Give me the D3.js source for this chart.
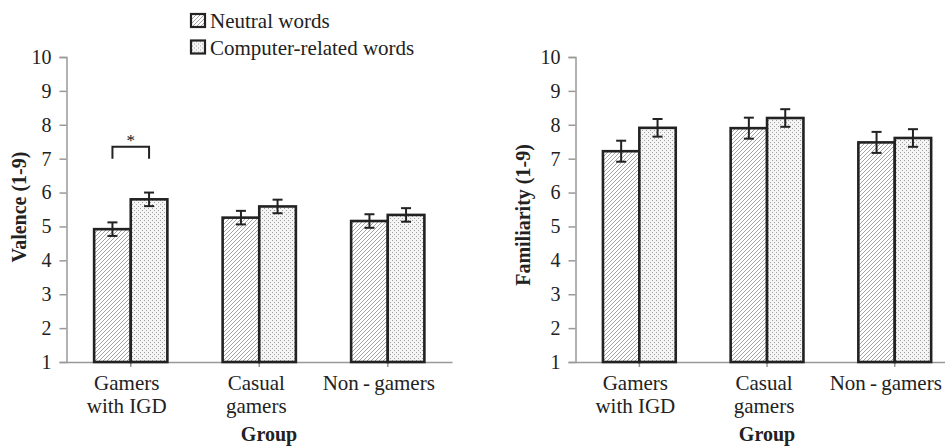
<!DOCTYPE html>
<html lang="en">

<head>
    <meta charset="utf-8">
    <script src="https://cdn.jsdelivr.net/npm/d3@7"></script>
    <style>
        body { margin: 0; background: #fff; }
        svg { display: block; font-family: "Liberation Serif", "Times New Roman", serif; }
    </style>
</head>

<body>
    <div id="chart"></div>

    <script>
        // data
        const groups = ["Gamers with IGD", "Casual gamers", "Non-gamers"];
        const groupLines = [["Gamers", "with IGD"], ["Casual", "gamers"], ["Non\u2009-\u2009gamers"]];
        const seriesNames = ["Neutral words", "Computer-related words"];
        const yTicks = [1, 2, 3, 4, 5, 6, 7, 8, 9, 10];

        const valenceNeutral = [4.92, 5.26, 5.16];
        const valenceComputer = [5.80, 5.59, 5.34];
        const valenceNeutralErr = [0.2, 0.2, 0.2];
        const valenceComputerErr = [0.2, 0.2, 0.2];

        const familiarNeutral = [7.22, 7.90, 7.48];
        const familiarComputer = [7.91, 8.20, 7.61];
        const familiarNeutralErr = [0.31, 0.31, 0.31];
        const familiarComputerErr = [0.26, 0.26, 0.26];

        const W = 945, H = 446;
        const labelShift = [-4, -3, -9];

        const svg = d3.select("#chart").append("svg")
            .attr("width", W)
            .attr("height", H);

        // fill patterns
        const defs = svg.append("defs");
        const hatch = defs.append("pattern")
            .attr("id", "hatch")
            .attr("patternUnits", "userSpaceOnUse")
            .attr("width", 4).attr("height", 4);
        hatch.append("rect").attr("width", 4).attr("height", 4).attr("fill", "#fff");
        hatch.append("path")
            .attr("d", "M-1,1 l2,-2 M0,4 l4,-4 M3,5 l2,-2")
            .attr("stroke", "#8c8c8c")
            .attr("stroke-width", 0.8);

        const dots = defs.append("pattern")
            .attr("id", "dots")
            .attr("patternUnits", "userSpaceOnUse")
            .attr("width", 4).attr("height", 4);
        dots.append("rect").attr("width", 4).attr("height", 4).attr("fill", "#f5f5f5");
        dots.append("rect").attr("x", 0).attr("y", 0).attr("width", 1).attr("height", 1).attr("fill", "#a0a0a0");
        dots.append("rect").attr("x", 2).attr("y", 2).attr("width", 1).attr("height", 1).attr("fill", "#a0a0a0");

        const fills = ["url(#hatch)", "url(#dots)"];

        function drawPanel(p) {
            const g = svg.append("g");

            const x = d3.scaleBand()
                .domain(groups)
                .range([p.left, p.left + 3 * p.step])
                .paddingInner(0.43)
                .paddingOuter(0.215);
            const x1 = d3.scaleBand()
                .domain([0, 1])
                .range([0, x.bandwidth()]);
            const y = d3.scaleLinear()
                .domain([1, 10])
                .range([362, 57]);

            // axes
            const yAxis = g.append("g")
                .attr("transform", `translate(${p.left},0)`)
                .call(d3.axisLeft(y).tickValues(yTicks).tickSize(7).tickPadding(8).tickFormat(d3.format("d")));
            yAxis.attr("font-family", null);
            yAxis.select(".domain").attr("stroke", "#999").attr("stroke-width", 1.5);
            yAxis.selectAll(".tick line").attr("stroke", "#999").attr("stroke-width", 1.5);
            yAxis.selectAll(".tick text")
                .attr("fill", "#222")
                .style("font-size", "20px");

            const xAxis = g.append("g")
                .attr("transform", `translate(0,${y(1)})`)
                .call(d3.axisBottom(x).tickSize(5).tickSizeOuter(0).tickFormat(""));
            xAxis.select(".domain").attr("stroke", "#999").attr("stroke-width", 1.5);
            xAxis.selectAll(".tick line").attr("stroke", "#999").attr("stroke-width", 1.5);

            // category labels
            groups.forEach((grp, i) => {
                const cx = x(grp) + x.bandwidth() / 2 + labelShift[i];
                const t = g.append("text")
                    .attr("x", cx)
                    .attr("y", 390)
                    .attr("text-anchor", "middle")
                    .attr("fill", "#222")
                    .style("font-size", "21px");
                groupLines[i].forEach((line, j) => {
                    t.append("tspan")
                        .attr("x", cx)
                        .attr("dy", j === 0 ? 0 : 23)
                        .text(line);
                });
            });

            // axis titles
            g.append("text")
                .attr("x", p.groupTitleX)
                .attr("y", 441)
                .attr("text-anchor", "middle")
                .attr("font-weight", "bold")
                .attr("fill", "#222")
                .style("font-size", "20px")
                .text("Group");

            g.append("text")
                .attr("transform", `translate(${p.titleX},${p.titleY}) rotate(-90)`)
                .attr("text-anchor", "middle")
                .attr("font-weight", "bold")
                .attr("fill", "#222")
                .style("font-size", "20px")
                .text(p.title);

            // bars
            const rows = [];
            groups.forEach((grp, i) => {
                p.values.forEach((vals, s) => {
                    rows.push({ grp, s, v: vals[i], e: p.errors[s][i] });
                });
            });

            g.selectAll("rect.bar")
                .data(rows)
                .join("rect")
                .attr("class", "bar")
                .attr("x", d => x(d.grp) + x1(d.s))
                .attr("y", d => y(d.v))
                .attr("width", x1.bandwidth())
                .attr("height", d => y(1) - y(d.v))
                .attr("fill", d => fills[d.s])
                .attr("stroke", "#222")
                .attr("stroke-width", 2.6);

            // error bars
            const eb = g.selectAll("g.err")
                .data(rows)
                .join("g")
                .attr("class", "err")
                .attr("stroke", "#222")
                .attr("stroke-width", 2);
            const cx = d => x(d.grp) + x1(d.s) + x1.bandwidth() / 2;
            eb.append("line")
                .attr("x1", cx).attr("x2", cx)
                .attr("y1", d => y(d.v + d.e)).attr("y2", d => y(d.v - d.e));
            eb.append("line")
                .attr("x1", d => cx(d) - 5).attr("x2", d => cx(d) + 5)
                .attr("y1", d => y(d.v + d.e)).attr("y2", d => y(d.v + d.e));
            eb.append("line")
                .attr("x1", d => cx(d) - 5).attr("x2", d => cx(d) + 5)
                .attr("y1", d => y(d.v - d.e)).attr("y2", d => y(d.v - d.e));

            // significance bracket
            if (p.sig) {
                const gi = groups[p.sig.group];
                const xa = x(gi) + x1(0) + x1.bandwidth() / 2;
                const xb = x(gi) + x1(1) + x1.bandwidth() / 2;
                const yt = y(p.sig.level);
                g.append("path")
                    .attr("d", `M${xa},${yt + 12} V${yt} H${xb} V${yt + 12}`)
                    .attr("fill", "none")
                    .attr("stroke", "#222")
                    .attr("stroke-width", 2);
                g.append("text")
                    .attr("x", (xa + xb) / 2)
                    .attr("y", yt - 1)
                    .attr("text-anchor", "middle")
                    .attr("fill", "#111")
                    .style("font-size", "17px")
                    .text("*");
            }
        }

        drawPanel({
            left: 66.5, step: 128.5,
            values: [valenceNeutral, valenceComputer],
            errors: [valenceNeutralErr, valenceComputerErr],
            title: "Valence (1-9)", titleX: 26, titleY: 207,
            groupTitleX: 269,
            sig: { group: 0, level: 7.35 }
        });

        drawPanel({
            left: 575.5, step: 127.7,
            values: [familiarNeutral, familiarComputer],
            errors: [familiarNeutralErr, familiarComputerErr],
            title: "Familiarity (1-9)", titleX: 530, titleY: 215,
            groupTitleX: 767
        });

        // legend
        const legend = svg.append("g").attr("transform", "translate(190,13)");
        seriesNames.forEach((name, i) => {
            const row = legend.append("g").attr("transform", `translate(0,${i * 26.5})`);
            row.append("rect")
                .attr("x", 1).attr("y", 1)
                .attr("width", 14).attr("height", 13)
                .attr("fill", fills[i])
                .attr("stroke", "#222")
                .attr("stroke-width", 2.2);
            row.append("text")
                .attr("x", 20)
                .attr("y", 15)
                .attr("fill", "#222")
                .style("font-size", "21px")
                .text(name);
        });
    </script>

</body>

</html>
